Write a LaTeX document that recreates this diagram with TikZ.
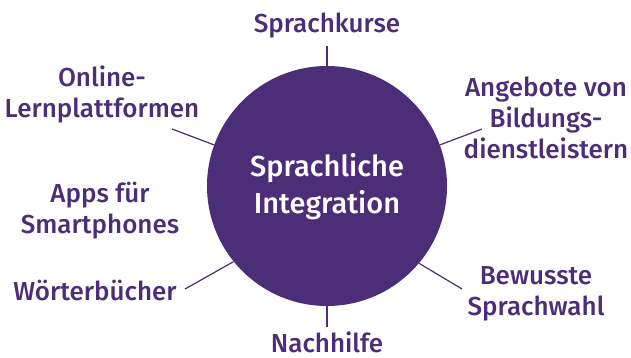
\documentclass[tikz,border=0pt]{standalone}
\usepackage{fontspec}
\setmainfont{Fira Sans}[UprightFont=* Medium]
\definecolor{vio}{RGB}{75,45,120}
\begin{document}
\begin{tikzpicture}[x=1pt,y=-1pt,
  lbl/.style={text=vio,font=\fontsize{26}{31}\selectfont,align=center,inner sep=0pt,anchor=base},
  spoke/.style={draw=vio,line width=1.2pt}]
\useasboundingbox (0,0) rectangle (631,358);
\node[circle,fill=vio,minimum size=240pt,inner sep=0pt] (c) at (327,186) {};
\node[text=white,font=\fontsize{29}{36}\selectfont,align=center,inner sep=0pt,anchor=base] (ct) at (327,213) {Sprachliche\\Integration};
\node[lbl] (top) at (327,33) {Sprachkurse};
\node[lbl] (ol) at (102,118) {Online-\\Lernplattformen};
\node[lbl] (ab) at (546,159) {Angebote von\\Bildungs-\\dienstleistern};
\node[lbl] (ap) at (100,233) {Apps für\\Smartphones};
\node[lbl] (wb) at (95,300) {Wörterbücher};
\node[lbl] (bs) at (536,315) {Bewusste\\Sprachwahl};
\node[lbl] (nh) at (327,352) {Nachhilfe};
\coordinate (ptop) at (327,46);
\coordinate (pbot) at (327,327);
\coordinate (pul) at (172,129);
\coordinate (pur) at (482,129);
\coordinate (pll) at (185,289);
\coordinate (plr) at (462,289);
\draw[spoke] (c.90) -- (ptop);
\draw[spoke] (c.270) -- (pbot);
\draw[spoke] (c.160) -- (pul);
\draw[spoke] (c.20) -- (pur);
\draw[spoke] (c.219) -- (pll);
\draw[spoke] (c.-40) -- (plr);
\end{tikzpicture}
\end{document}
